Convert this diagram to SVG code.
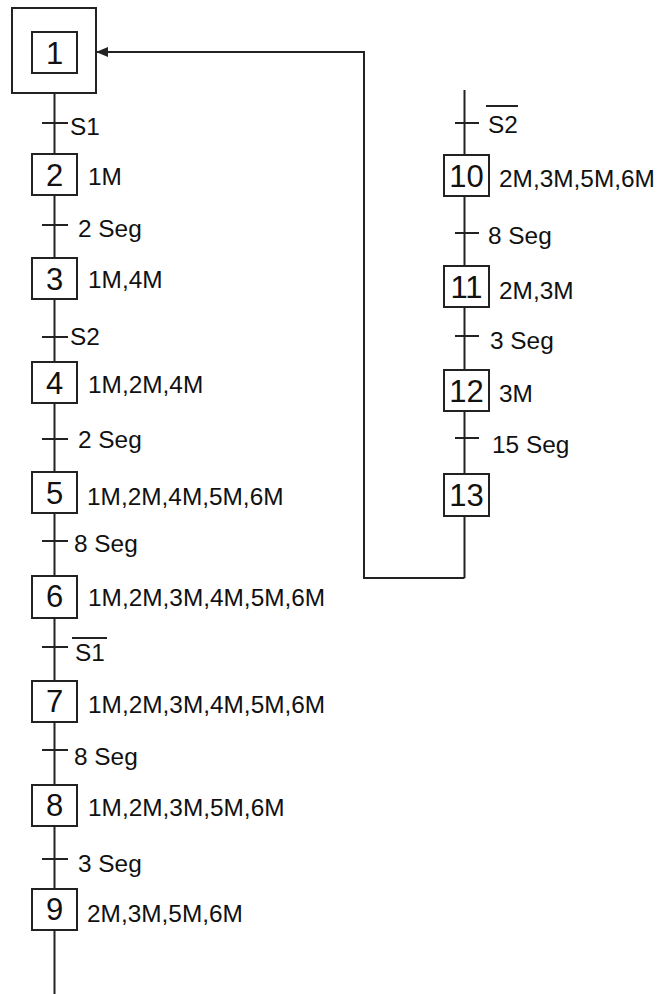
<svg xmlns="http://www.w3.org/2000/svg" width="658" height="994" viewBox="0 0 658 994">
<defs>
<style>
.box{fill:#fff;stroke:#222;stroke-width:2}
.ln{fill:none;stroke:#222;stroke-width:2}
.num{font-family:"Liberation Sans",Arial,sans-serif;font-size:31px;fill:#111;text-anchor:middle}
.lbl{font-family:"Liberation Sans",Arial,sans-serif;font-size:24.4px;fill:#111}
</style>
<marker id="arr" markerWidth="12" markerHeight="10" refX="11" refY="5" orient="auto" markerUnits="userSpaceOnUse">
<path d="M0,0 L12,5 L0,10 z" fill="#222"/>
</marker>
</defs>
<rect width="658" height="994" fill="#fff"/>
<g id="connectors">
<line class="ln" x1="54.5" y1="93" x2="54.5" y2="994"/>
<line class="ln" x1="464.5" y1="90" x2="464.5" y2="578"/>
<polyline class="ln" points="464.5,578 364,578 364,52 97,52" marker-end="url(#arr)"/>
<line class="ln" x1="42" y1="123" x2="68" y2="123"/>
<line class="ln" x1="42" y1="225" x2="68" y2="225"/>
<line class="ln" x1="42" y1="337" x2="68" y2="337"/>
<line class="ln" x1="42" y1="439" x2="68" y2="439"/>
<line class="ln" x1="42" y1="541" x2="68" y2="541"/>
<line class="ln" x1="42" y1="647" x2="68" y2="647"/>
<line class="ln" x1="42" y1="750" x2="68" y2="750"/>
<line class="ln" x1="42" y1="859" x2="68" y2="859"/>
<line class="ln" x1="455" y1="123" x2="479" y2="123"/>
<line class="ln" x1="455" y1="233" x2="479" y2="233"/>
<line class="ln" x1="455" y1="336" x2="479" y2="336"/>
<line class="ln" x1="455" y1="438" x2="479" y2="438"/>
<text class="lbl" x="70" y="135">S1</text>
<text class="lbl" x="78" y="237">2 Seg</text>
<text class="lbl" x="70" y="345">S2</text>
<text class="lbl" x="78" y="448">2 Seg</text>
<text class="lbl" x="74" y="552">8 Seg</text>
<text class="lbl" x="75" y="661">S1</text>
<line class="ln" x1="72" y1="638" x2="107" y2="638"/>
<text class="lbl" x="74" y="765">8 Seg</text>
<text class="lbl" x="78" y="872">3 Seg</text>
<text class="lbl" x="488" y="133">S2</text>
<line class="ln" x1="486" y1="106" x2="518" y2="106"/>
<text class="lbl" x="488" y="244">8 Seg</text>
<text class="lbl" x="490" y="349">3 Seg</text>
<text class="lbl" x="492" y="453">15 Seg</text>
</g>
<g id="step1">
<rect class="box" x="12" y="8" width="84" height="85"/>
<rect class="box" x="32" y="32" width="45" height="41"/>
<text class="num" x="54.5" y="63.5">1</text>
</g>
<g id="step2">
<rect class="box" x="32" y="154" width="45" height="41"/>
<text class="num" x="54.5" y="186">2</text>
<text class="lbl" x="88" y="184.5">1M</text>
</g>
<g id="step3">
<rect class="box" x="32" y="258" width="45" height="41"/>
<text class="num" x="54.5" y="290">3</text>
<text class="lbl" x="88" y="288">1M,4M</text>
</g>
<g id="step4">
<rect class="box" x="32" y="362" width="45" height="41"/>
<text class="num" x="54.5" y="394">4</text>
<text class="lbl" x="88" y="393">1M,2M,4M</text>
</g>
<g id="step5">
<rect class="box" x="32" y="472" width="45" height="41"/>
<text class="num" x="54.5" y="504">5</text>
<text class="lbl" x="87" y="505">1M,2M,4M,5M,6M</text>
</g>
<g id="step6">
<rect class="box" x="32" y="576" width="45" height="42"/>
<text class="num" x="54.5" y="607">6</text>
<text class="lbl" x="88" y="606">1M,2M,3M,4M,5M,6M</text>
</g>
<g id="step7">
<rect class="box" x="32" y="681" width="45" height="41"/>
<text class="num" x="54.5" y="712">7</text>
<text class="lbl" x="88" y="713">1M,2M,3M,4M,5M,6M</text>
</g>
<g id="step8">
<rect class="box" x="32" y="785" width="45" height="41"/>
<text class="num" x="54.5" y="816">8</text>
<text class="lbl" x="88" y="816">1M,2M,3M,5M,6M</text>
</g>
<g id="step9">
<rect class="box" x="32" y="889" width="45" height="41"/>
<text class="num" x="54.5" y="920">9</text>
<text class="lbl" x="87" y="922">2M,3M,5M,6M</text>
</g>
<g id="step10">
<rect class="box" x="444" y="155" width="45" height="41"/>
<text class="num" x="466.5" y="187">10</text>
<text class="lbl" x="499" y="187">2M,3M,5M,6M</text>
</g>
<g id="step11">
<rect class="box" x="444" y="266" width="45" height="41"/>
<text class="num" x="466.5" y="298">11</text>
<text class="lbl" x="499" y="299">2M,3M</text>
</g>
<g id="step12">
<rect class="box" x="444" y="370" width="45" height="41"/>
<text class="num" x="466.5" y="402">12</text>
<text class="lbl" x="499" y="402">3M</text>
</g>
<g id="step13">
<rect class="box" x="444" y="474" width="45" height="42"/>
<text class="num" x="466.5" y="506">13</text>
</g>
</svg>
